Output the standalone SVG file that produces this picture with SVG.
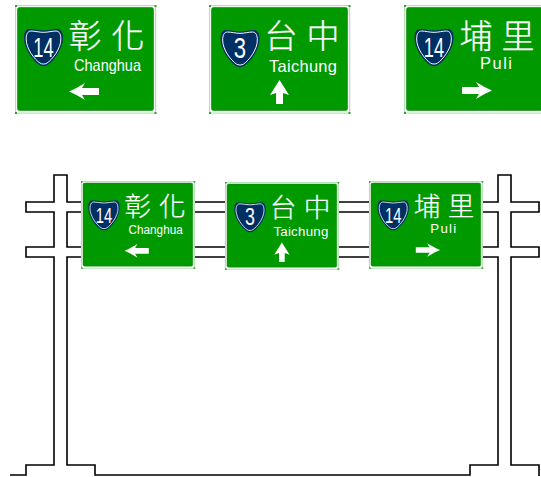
<svg xmlns="http://www.w3.org/2000/svg" width="541" height="477" viewBox="0 0 541 477">
<style>
.plate{fill:#009900;stroke:#0f7f0f;stroke-width:.6}
.edge{fill:none;stroke:#b5e0b5;stroke-width:1.2}
.dot{fill:#2f9f2f}
.cjk{font-family:"Noto Sans CJK TC","Noto Sans CJK SC",sans-serif;font-weight:300;font-size:33px;fill:#fff;stroke:#fff;stroke-width:.25;text-anchor:middle}
.en{font-family:"Liberation Sans",sans-serif;font-size:16.500px;fill:#fff}
.num{font-family:"Liberation Sans",sans-serif;font-size:27px;fill:#fff;text-anchor:middle}
.arrow{fill:#fff}
.line{fill:none;stroke:#000;stroke-width:1.6}
.sh{fill:#002f63}
.ring{fill:none;stroke:#fff;stroke-width:1.1}
</style>
<defs>
<path id="sp" d="M0 1.500C5 1.500 10 0 14 0C18 0 19.500 4 19.500 9C19.500 20 10 32 4 36C2 37.500-2 37.500-4 36C-10 32-19.500 20-19.500 9C-19.500 4-18 0-14 0C-10 0-5 1.500 0 1.500Z"/>
<g id="shield">
<use href="#sp" class="sh"/>
<use href="#sp" class="ring" transform="translate(0 2) scale(.89)"/>
</g>
<g id="board">
<rect class="edge" x="0.600" y="0.600" width="140" height="107.500"/>
<rect class="plate" x="2.500" y="2.500" width="136" height="103" rx="2"/>
<rect class="dot" x="0" y="0" width="2" height="2"/><rect class="dot" x="139.500" y="0" width="2" height="2"/><rect class="dot" x="0" y="107" width="2" height="2"/><rect class="dot" x="139.500" y="107" width="2" height="2"/>
</g>
<path id="left" class="arrow" d="M0 8.500C6 6 11 3 16 0L13 5H30V12H13L16 17C11 14 6 11 0 8.500Z"/>
<path id="right" class="arrow" d="M30 8.500C24 6 19 3 14 0L17 5H0V12H17L14 17C19 14 24 11 30 8.500Z"/>
<path id="up" class="arrow" d="M9.500 0L19 15L13 13V24H6V13L0 15Z"/>
<g id="s1">
<use href="#board"/>
<use href="#shield" x="28.500" y="24"/>
<text class="num" transform="translate(28.500 52) scale(.68 1)">14</text>
<text class="cjk" x="70" y="43">彰</text>
<text class="cjk" x="113" y="43">化</text>
<text class="en" x="59" y="66" textLength="67" lengthAdjust="spacingAndGlyphs">Changhua</text>
<use href="#left" x="54" y="78"/>
</g>
<g id="s2">
<use href="#board"/>
<use href="#shield" x="31" y="25"/>
<text class="num" transform="translate(31 53) scale(.82 1.08)">3</text>
<text class="cjk" x="72" y="43">台</text>
<text class="cjk" x="114" y="43">中</text>
<text class="en" x="60" y="67" textLength="68" lengthAdjust="spacing">Taichung</text>
<use href="#up" x="61" y="75"/>
</g>
<g id="s3">
<use href="#board"/>
<use href="#shield" x="30" y="24"/>
<text class="num" transform="translate(30 52) scale(.68 1)">14</text>
<text class="cjk" x="72" y="43">埔</text>
<text class="cjk" x="114" y="43">里</text>
<text class="en" x="76" y="64" textLength="32" lengthAdjust="spacing">Puli</text>
<use href="#right" x="58" y="77"/>
</g>
</defs>
<g id="connectors">
<path class="line" d="M10 475H26V465H54V257H26V247H54V212H26V202H54V175H67V202H81M81 212H67V247H81M81 257H67V465H95V475H470V465H498V257H483M483 247H498V212H483M483 202H498V175H511V202H539V212H511V247H539V257H511V465H539V476"/>
<path class="line" d="M195 202H225M195 212H225M195 247H225M195 257H225M339 202H369M339 212H369M339 247H369M339 257H369"/>
</g>
<g id="top-changhua"><use href="#s1" x="15" y="5"/></g>
<g id="top-taichung"><use href="#s2" x="209" y="5"/></g>
<g id="top-puli"><use href="#s3" x="404" y="5"/></g>
<g id="gantry-changhua" transform="translate(81 181) scale(.807)"><use href="#s1"/></g>
<g id="gantry-taichung" transform="translate(225 182) scale(.807)"><use href="#s2"/></g>
<g id="gantry-puli" transform="translate(369 181) scale(.807)"><use href="#s3"/></g>
</svg>
